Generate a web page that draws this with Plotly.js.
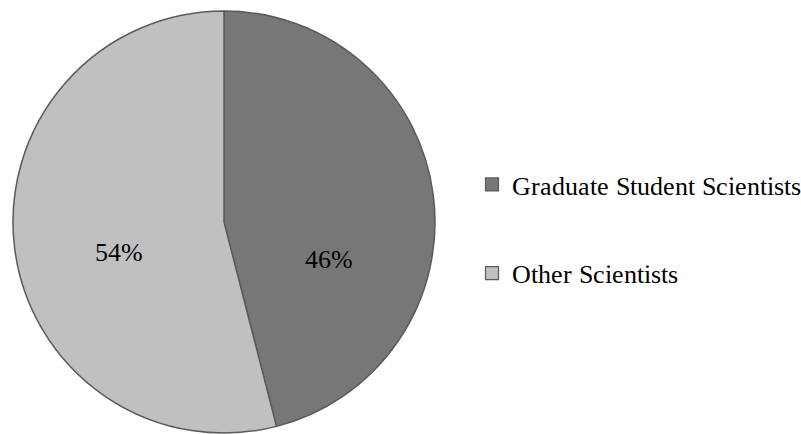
<!DOCTYPE html>
<html>
<head>
<meta charset="utf-8">
<script src="https://cdn.plot.ly/plotly-3.0.1.min.js"></script>
<style>
@font-face { font-family: "ChartSerif"; src: local("Liberation Serif"), local("LiberationSerif"), local("Times New Roman"); }
html, body { margin: 0; padding: 0; background: #fff; }
#chart { width: 801px; height: 434px; }
#chart .legendtext, #chart .slicetext, #chart .slicetext text { font-family: "ChartSerif", "Liberation Serif", "Times New Roman", serif !important; }
#warm { position: absolute; left: -9999px; top: 0; font-family: "ChartSerif", "Liberation Serif", serif; }
</style>
</head>
<body>
<div id="warm">Graduate Student Scientists 46% 54%</div>
<div id="chart"></div>
<script>
// Data
const categories = ["Graduate Student Scientists", "Other Scientists"];
const shares = [46, 54];
const sliceColors = ["#777777", "#c0c0c0"];

const W = 801, H = 434;
const FONT = "ChartSerif, Liberation Serif, Times New Roman, serif";

const pie = {
  type: "pie",
  labels: categories,
  values: shares,
  sort: false,
  direction: "clockwise",
  rotation: 0,
  showlegend: false,
  marker: { colors: sliceColors, line: { color: "#5a5a5a", width: 1.5 } },
  textinfo: "percent",
  texttemplate: ["&nbsp;<br>&nbsp;<br>&nbsp;<br>%{percent:.0%}", "&nbsp;<br>%{percent:.0%}"],
  textposition: "inside",
  insidetextorientation: "horizontal",
  textfont: { family: FONT, size: 26, color: "#000" },
  hoverinfo: "label+percent",
  domain: { x: [13 / W, 435 / W], y: [1 - 433 / H, 1 - 11 / H] }
};

// legend entries drawn from the same arrays
const legendTraces = categories.map((c, i) => ({
  type: "scatter",
  mode: "markers",
  x: [null], y: [null],
  name: c,
  legendgroup: "g" + i,
  marker: { symbol: "square", size: 13, color: sliceColors[i], line: { color: "#5a5a5a", width: 1.2 } },
  hoverinfo: "skip"
}));

const layout = {
  width: W, height: H,
  margin: { l: 0, r: 0, t: 0, b: 0, autoexpand: false },
  paper_bgcolor: "#fff",
  plot_bgcolor: "rgba(0,0,0,0)",
  font: { family: FONT, size: 20, color: "#000" },
  xaxis: { visible: false },
  yaxis: { visible: false },
  showlegend: true,
  legend: {
    x: 472 / W, xanchor: "left",
    y: 1 - 161 / H, yanchor: "top",
    font: { family: FONT, size: 26, color: "#000" },
    tracegroupgap: 52,
    bgcolor: "rgba(0,0,0,0)",
    borderwidth: 0,
    itemclick: false, itemdoubleclick: false
  }
};

const draw = () => Plotly.newPlot("chart", [pie, ...legendTraces], layout, { displayModeBar: false });
if (document.fonts && document.fonts.load) {
  document.fonts.load('26px "ChartSerif"').then(draw, draw);
} else {
  draw();
}
</script>
</body>
</html>
